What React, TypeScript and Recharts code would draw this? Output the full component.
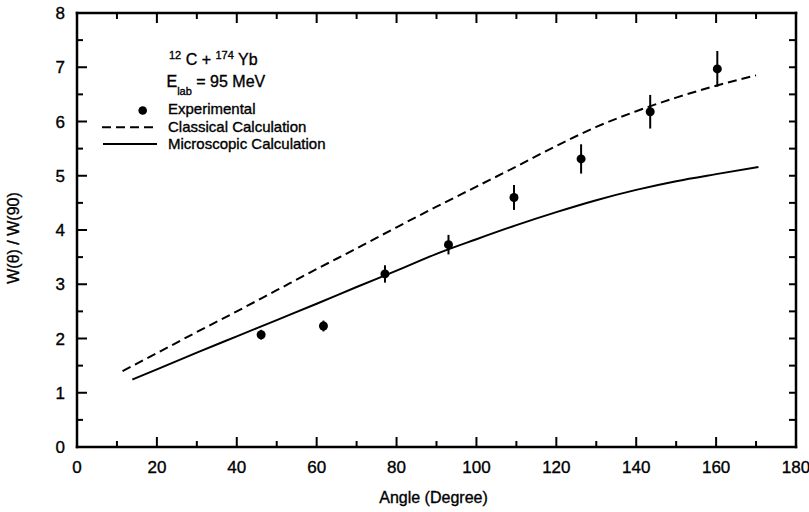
import React from "react";
import {
  ComposedChart,
  Line,
  Scatter,
  ErrorBar,
  XAxis,
  YAxis,
} from "recharts";

// measured points (angle in degrees, W(theta)/W(90), error)
const expAngle = [46.1, 61.7, 77.1, 93.0, 109.4, 126.2, 143.5, 160.3];
const expRatio = [2.07, 2.23, 3.19, 3.73, 4.6, 5.31, 6.18, 6.97];
const expErr = [0.09, 0.1, 0.16, 0.18, 0.23, 0.27, 0.31, 0.33];

// classical calculation (dashed)
const classAngle = [11.4, 20, 30, 40, 50, 60, 70, 80, 90, 100, 110, 120, 130, 140, 150, 160, 170];
const classRatio = [1.4, 1.73, 2.12, 2.5, 2.89, 3.28, 3.66, 4.05, 4.43, 4.8, 5.17, 5.55, 5.9, 6.19, 6.44, 6.66, 6.85];

// microscopic calculation (solid)
const microAngle = [13.85, 20, 30, 40, 50, 60, 70, 80, 90, 100, 110, 120, 130, 140, 150, 160, 170.6];
const microRatio = [1.245, 1.43, 1.74, 2.04, 2.34, 2.64, 2.95, 3.25, 3.56, 3.83, 4.09, 4.33, 4.55, 4.74, 4.9, 5.03, 5.16];

const xTicks = [0, 10, 20, 30, 40, 50, 60, 70, 80, 90, 100, 110, 120, 130, 140, 150, 160, 170, 180];
const yTicks = [0, 0.5, 1, 1.5, 2, 2.5, 3, 3.5, 4, 4.5, 5, 5.5, 6, 6.5, 7, 7.5, 8];

const expData = expAngle.map((x, i) => ({ x, y: expRatio[i], err: expErr[i] }));
const classData = classAngle.map((x, i) => ({ x, y: classRatio[i] }));
const microData = microAngle.map((x, i) => ({ x, y: microRatio[i] }));

const W = 809;
const H = 512;
const MARGIN = { top: 13, right: 13, left: 0, bottom: 0 };
const Y_AXIS_W = 77;
const X_AXIS_H = 65;
// plot box that recharts lays out from the margins and axis sizes
const PLOT = {
  left: MARGIN.left + Y_AXIS_W,
  right: W - MARGIN.right,
  top: MARGIN.top,
  bottom: H - MARGIN.bottom - X_AXIS_H,
};

const FONT = "'Liberation Sans', Arial, Helvetica, sans-serif";
// scanned-looking text is a bit heavier than plain regular
const txt = { fontFamily: FONT, fill: "#000", stroke: "#000", strokeWidth: 0.35 };

// ticks point inward, labels only at major values
const BottomTick = ({ x, y, payload }: any) => {
  const major = payload.value % 20 === 0;
  return (
    <g>
      <line x1={x} x2={x} y1={y} y2={y - (major ? 10 : 6)} stroke="#000" strokeWidth={2} />
      {major && (
        <text x={x} y={y + 26} textAnchor="middle" fontSize={17} {...txt}>
          {payload.value}
        </text>
      )}
    </g>
  );
};

const LeftTick = ({ x, y, payload }: any) => {
  const major = payload.value % 1 === 0;
  return (
    <g>
      <line x1={x} x2={x + (major ? 10 : 6)} y1={y} y2={y} stroke="#000" strokeWidth={2} />
      {major && (
        <text x={x - 12} y={y + 6} textAnchor="end" fontSize={17} {...txt}>
          {payload.value}
        </text>
      )}
    </g>
  );
};

const XTitle = ({ viewBox }: any) => (
  <text x={viewBox.x + viewBox.width / 2 - 3} y={503} textAnchor="middle" fontSize={16} {...txt}>
    Angle (Degree)
  </text>
);

const YTitle = ({ viewBox }: any) => {
  const cx = 19;
  const cy = viewBox.y + viewBox.height / 2 + 8;
  return (
    <text x={cx} y={cy} transform={`rotate(-90 ${cx} ${cy})`} textAnchor="middle" fontSize={16} {...txt}>
      W(θ) / W(90)
    </text>
  );
};

const Dot = ({ cx, cy }: any) => <circle cx={cx} cy={cy} r={4.5} fill="#000" />;

const axisLine = { stroke: "#000", strokeWidth: 2.5, strokeLinecap: "square" as const };

// top and right edges of the box with their inward ticks
const Frame = () => {
  const px = (v: number) => PLOT.left + (v / 180) * (PLOT.right - PLOT.left);
  const py = (v: number) => PLOT.bottom - (v / 8) * (PLOT.bottom - PLOT.top);
  return (
    <g stroke="#000" fill="none">
      <line x1={PLOT.left} x2={PLOT.right} y1={PLOT.top} y2={PLOT.top} strokeWidth={2.5} strokeLinecap="square" />
      <line x1={PLOT.right} x2={PLOT.right} y1={PLOT.top} y2={PLOT.bottom} strokeWidth={2.5} strokeLinecap="square" />
      {xTicks.slice(1, -1).map((v) => (
        <line key={`t${v}`} x1={px(v)} x2={px(v)} y1={PLOT.top} y2={PLOT.top + (v % 20 === 0 ? 10 : 6)} strokeWidth={2} />
      ))}
      {yTicks.slice(1, -1).map((v) => (
        <line key={`r${v}`} x1={PLOT.right} x2={PLOT.right - 7} y1={py(v)} y2={py(v)} strokeWidth={2} />
      ))}
    </g>
  );
};

export default function App() {
  return (
    <div style={{ position: "absolute", left: 0, top: 0, width: W, height: H, background: "#fff" }}>
      <ComposedChart width={W} height={H} margin={MARGIN}>
        <XAxis
          xAxisId="b"
          dataKey="x"
          type="number"
          domain={[0, 180]}
          ticks={xTicks}
          interval={0}
          height={X_AXIS_H}
          tickSize={0}
          tickMargin={0}
          tickLine={false}
          axisLine={axisLine}
          tick={<BottomTick />}
          label={<XTitle />}
        />
        <YAxis
          yAxisId="l"
          dataKey="y"
          type="number"
          domain={[0, 8]}
          ticks={yTicks}
          interval={0}
          width={Y_AXIS_W}
          tickSize={0}
          tickMargin={0}
          tickLine={false}
          axisLine={axisLine}
          tick={<LeftTick />}
          label={<YTitle />}
        />
        <Line
          xAxisId="b"
          yAxisId="l"
          data={classData}
          dataKey="y"
          type="monotone"
          stroke="#000"
          strokeWidth={2}
          strokeDasharray="9 5"
          dot={false}
          activeDot={false}
          isAnimationActive={false}
        />
        <Line
          xAxisId="b"
          yAxisId="l"
          data={microData}
          dataKey="y"
          type="monotone"
          stroke="#000"
          strokeWidth={2}
          dot={false}
          activeDot={false}
          isAnimationActive={false}
        />
        <Scatter
          xAxisId="b"
          yAxisId="l"
          data={expData}
          dataKey="y"
          shape={<Dot />}
          isAnimationActive={false}
        >
          <ErrorBar dataKey="err" direction="y" width={0} stroke="#000" strokeWidth={2} isAnimationActive={false} />
        </Scatter>
      </ComposedChart>

      {/* frame edges, reaction label and legend */}
      <svg width={W} height={H} style={{ position: "absolute", left: 0, top: 0, pointerEvents: "none" }}>
        <Frame />
        <g fontFamily={FONT} fill="#000" stroke="#000" strokeWidth={0.35}>
          <text x={169} y={65} fontSize={16}>
            <tspan fontSize={11} dy={-6}>12</tspan>
            <tspan dy={6}> C + </tspan>
            <tspan fontSize={11} dy={-6}>174</tspan>
            <tspan dy={6}> Yb</tspan>
          </text>
          <text x={166.5} y={87} fontSize={16}>
            E
            <tspan fontSize={11} dy={8}>lab</tspan>
            <tspan dy={-8}> = 95 MeV</tspan>
          </text>
          <circle cx={142.7} cy={110.5} r={4.3} stroke="none" />
          <text x={168} y={114} fontSize={15}>Experimental</text>
          <line x1={102} x2={157} y1={127.3} y2={127.3} strokeWidth={2} strokeDasharray="9 5" />
          <text x={168} y={131.5} fontSize={15}>Classical Calculation</text>
          <line x1={103} x2={157} y1={144} y2={144} strokeWidth={2} />
          <text x={168} y={149} fontSize={15}>Microscopic Calculation</text>
        </g>
      </svg>
    </div>
  );
}
